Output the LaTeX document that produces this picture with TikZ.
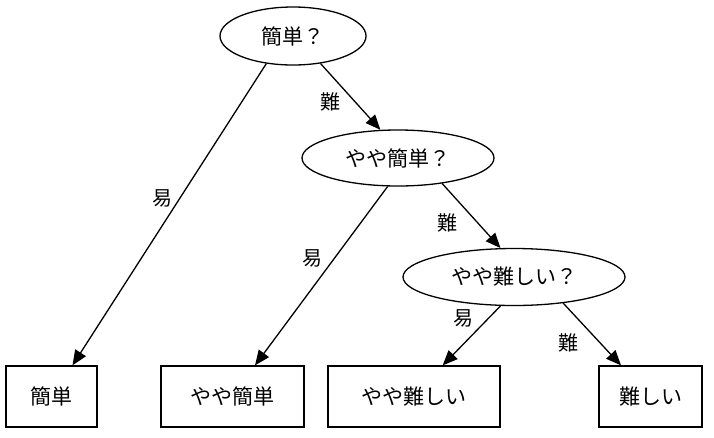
\documentclass[tikz,border=0pt]{standalone}
\usepackage{fontspec}
\setmainfont{Noto Sans CJK JP}
\usetikzlibrary{shapes.geometric,arrows.meta}
\tikzset{
  q/.style={draw, ellipse, line width=1.3pt, inner sep=0pt, font=\fontsize{21pt}{25pt}\selectfont},
  leaf/.style={draw, rectangle, line width=1.3pt, inner sep=0pt, minimum height=61pt, font=\fontsize{21pt}{25pt}\selectfont},
  edge/.style={line width=1.3pt, -{Triangle[length=15pt,width=12.5pt]}},
  lab/.style={inner sep=0pt, font=\fontsize{20pt}{24pt}\selectfont}
}
\begin{document}
\begin{tikzpicture}[x=1pt, y=-1pt]
\useasboundingbox (0,0) rectangle (714,437);
\fill[white] (0,0) rectangle (714,437);
\node[q, minimum width=146pt, minimum height=58pt] (top) at (293,36) {簡単？};
\node[q, minimum width=192pt, minimum height=56pt] (mid) at (398,158) {やや簡単？};
\node[q, minimum width=222pt, minimum height=57pt] (low) at (514,277) {やや難しい？};
\node[leaf, minimum width=91pt] (b1) at (51.5,396.5) {簡単};
\node[leaf, minimum width=143pt] (b2) at (232.5,396.5) {やや簡単};
\node[leaf, minimum width=172pt] (b3) at (414,396.5) {やや難しい};
\node[leaf, minimum width=103pt] (b4) at (650.5,396.5) {難しい};
\draw[edge] (top.226) -- ([xshift=21pt]b1.north);
\draw[edge] (top.315) -- (mid.122);
\draw[edge] (mid.250) -- ([xshift=22.5pt]b2.north);
\draw[edge] (mid.330) -- (low.115);
\draw[edge] (low.245) -- ([xshift=28.7pt]b3.north);
\draw[edge] (low.332) -- ([xshift=-29.5pt]b4.north);
\node[lab] (l1) at (162,198) {易};
\node[lab] (l2) at (330,102) {難};
\node[lab] (l3) at (312,258) {易};
\node[lab] (l4) at (447,223) {難};
\node[lab] (l5) at (463,318) {易};
\node[lab] (l6) at (568,343) {難};
\end{tikzpicture}
\end{document}
